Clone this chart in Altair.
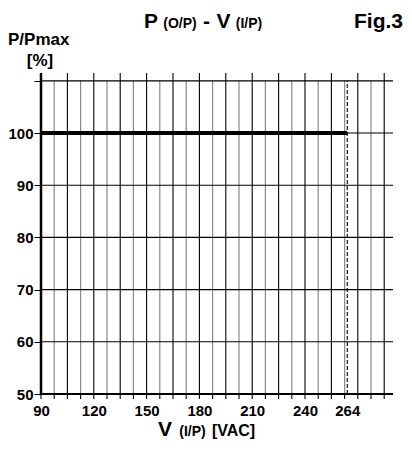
import altair as alt
import pandas as pd

FONT = "Liberation Sans"

# ---- data -------------------------------------------------------------
volts_major = [105, 120, 135, 150, 165, 180, 195, 210, 225, 240, 255, 270, 285]
volts_minor = [97.5, 112.5, 127.5, 142.5, 157.5, 172.5, 187.5, 202.5,
               217.5, 232.5, 247.5, 262.5, 277.5]
volts_ticks = [90, 97.5, 105, 112.5, 120, 127.5, 135, 142.5, 150, 157.5, 165,
               172.5, 180, 187.5, 195, 202.5, 210, 217.5, 225, 232.5, 240,
               247.5, 255, 262.5, 270, 277.5, 285]
x_label_values = [90, 120, 150, 180, 210, 240, 264]
pct_grid = [60, 70, 80, 90, 100, 110]
pct_axis_values = [50, 60, 70, 80, 90, 100, 110]
curve_volts = [90, 264]
curve_pct = [100, 100]
limit_volt = [264]

W, H = 352, 321

# ---- scales / axes ------------------------------------------------------
xs = alt.Scale(domain=[90, 290], nice=False, zero=False)
ys = alt.Scale(domain=[50, 111.5], nice=False, zero=False)

ax_x = alt.Axis(values=x_label_values, ticks=False, domain=False, grid=False,
                title=None, labelFont=FONT, labelFontSize=15,
                labelFontWeight="bold", labelColor="black", labelPadding=9,
                labelOverlap=False, labelFlush=False)
ax_y = alt.Axis(values=pct_axis_values, ticks=True, tickSize=7,
                tickColor="black", tickWidth=1, domain=False, grid=False,
                title=None, labelExpr="datum.value > 100 ? '' : datum.label",
                labelFont=FONT, labelFontSize=15, labelFontWeight="bold",
                labelColor="black", labelPadding=1, labelFlush=False)

minor_df = pd.DataFrame({"v": volts_minor})
major_df = pd.DataFrame({"v": volts_major})
ticks_df = pd.DataFrame({"v": volts_ticks})
grid_df = pd.DataFrame({"p": pct_grid})
curve_df = pd.DataFrame({"v": curve_volts, "p": curve_pct})
limit_df = pd.DataFrame({"v": limit_volt})

minor = alt.Chart(minor_df).mark_rule(color="#8a8a8a", strokeWidth=1.2).encode(
    x=alt.X("v:Q", scale=xs, axis=ax_x),
    y=alt.datum(50, scale=ys), y2=alt.datum(110))

major = alt.Chart(major_df).mark_rule(color="black", strokeWidth=1.1).encode(
    x=alt.X("v:Q", scale=xs, axis=ax_x),
    y=alt.datum(50, scale=ys), y2=alt.datum(111.5))

hgrid = alt.Chart(grid_df).mark_rule(color="black", strokeWidth=1.1).encode(
    y=alt.Y("p:Q", scale=ys, axis=ax_y),
    x=alt.datum(90, scale=xs), x2=alt.datum(290))

xticks = alt.Chart(ticks_df).mark_rule(color="black", strokeWidth=1.1).encode(
    x=alt.X("v:Q", scale=xs, axis=ax_x),
    y=alt.value(H), y2=alt.value(H + 5))

limit = alt.Chart(limit_df).mark_rule(color="black", strokeWidth=1.1,
                                      strokeDash=[4, 2]).encode(
    x=alt.X("v:Q", scale=xs, axis=ax_x),
    y=alt.datum(50, scale=ys), y2=alt.datum(110))

left_axis = alt.Chart(limit_df).mark_rule(color="black", strokeWidth=2.5).encode(
    x=alt.datum(90, scale=xs),
    y=alt.datum(50, scale=ys), y2=alt.datum(111.5))

bottom_axis = alt.Chart(limit_df).mark_rule(color="black", strokeWidth=2.2).encode(
    y=alt.datum(50, scale=ys),
    x=alt.datum(90, scale=xs), x2=alt.datum(290))

curve = alt.Chart(curve_df).mark_line(color="black", strokeWidth=4.2,
                                      strokeCap="butt").encode(
    x=alt.X("v:Q", scale=xs, axis=ax_x),
    y=alt.Y("p:Q", scale=ys, axis=ax_y))


def txt(s, x, y, size, align="center"):
    return alt.Chart(pd.DataFrame({"t": [s]})).mark_text(
        font=FONT, fontSize=size, fontWeight="bold", color="black",
        align=align, baseline="alphabetic").encode(
        text="t:N", x=alt.value(x), y=alt.value(y))


TY = -45      # title baseline
XT = H + 42   # x-title baseline
texts = [
    txt("P", 110, TY, 21),
    txt("(O/P)", 139, TY, 14),
    txt("-", 165.5, TY, 21),
    txt("V", 182.5, TY, 21),
    txt("(I/P)", 208, TY, 14),
    txt("Fig.3", 362, TY, 21, align="right"),
    txt("P/Pmax", -33, -28, 17, align="left"),
    txt("[%]", -1, -7, 17),
    txt("V", 124, XT, 21),
    txt("(I/P)", 151.5, XT, 14),
    txt("[VAC]", 192.5, XT, 16),
]

chart = alt.layer(minor, major, hgrid, xticks, limit, left_axis, bottom_axis,
                  curve, *texts).properties(
    width=W, height=H,
    padding={"left": 33, "top": 65, "right": 11, "bottom": 46},
    autosize=alt.AutoSizeParams(type="none"),
    background="white",
).configure_view(stroke=None)

chart.save("out.html", embed_options={"renderer": "svg", "actions": False})
